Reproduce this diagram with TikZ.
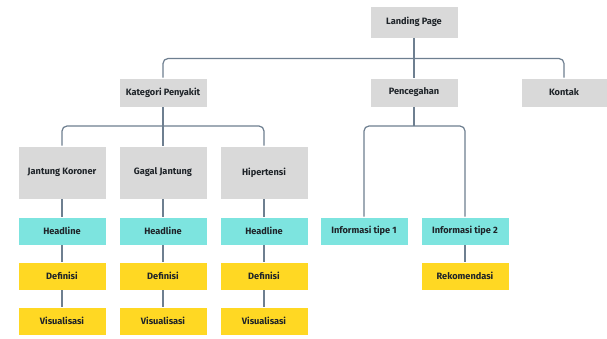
\documentclass[tikz,border=0pt]{standalone}
\usepackage{fontspec}
\setmainfont{Fira Sans}
\definecolor{greybox}{HTML}{D9D9D9}
\definecolor{cyanbox}{HTML}{7DE4DF}
\definecolor{yellowbox}{HTML}{FFD823}
\definecolor{linec}{HTML}{6E7F90}
\definecolor{textc}{HTML}{1E2328}
\begin{document}
\begin{tikzpicture}[x=1pt,y=-1pt,
  box/.style={draw=white,line width=0.6pt,minimum width=88pt,inner sep=0pt,
    font=\fontsize{9.2}{11}\selectfont\bfseries,text=textc},
  grey/.style={box,fill=greybox},
  cyanb/.style={box,fill=cyanbox,minimum height=28pt},
  yel/.style={box,fill=yellowbox,minimum height=28pt},
  conn/.style={draw=linec,line width=1.2pt,rounded corners=5pt}]
\useasboundingbox[fill=white] (0,0) rectangle (607,338);
% top level
\node[grey,minimum height=32pt] (land) at (414,22) {Landing Page};
\node[grey,minimum height=29pt] (kat) at (163,92.5) {Kategori Penyakit};
\node[grey,minimum height=29pt] (pen) at (414,92.5) {Pencegahan};
\node[grey,minimum height=29pt,minimum width=86pt] (kon) at (564,92.5) {Kontak};
% diseases
\node[grey,minimum height=53pt] (jk) at (62,172.5) {Jantung Koroner};
\node[grey,minimum height=53pt] (gj) at (163,172.5) {Gagal Jantung};
\node[grey,minimum height=53pt] (hip) at (264,172.5) {Hipertensi};
\node[cyanb] (h1) at (62,231) {Headline};
\node[cyanb] (h2) at (163,231) {Headline};
\node[cyanb] (h3) at (264,231) {Headline};
\node[yel] (d1) at (62,276) {Definisi};
\node[yel] (d2) at (163,276) {Definisi};
\node[yel] (d3) at (264,276) {Definisi};
\node[yel] (v1) at (62,321) {Visualisasi};
\node[yel] (v2) at (163,321) {Visualisasi};
\node[yel] (v3) at (264,321) {Visualisasi};
% prevention
\node[cyanb] (i1) at (364,231) {Informasi tipe 1};
\node[cyanb] (i2) at (465,231) {Informasi tipe 2};
\node[yel] (rek) at (465,276) {Rekomendasi};
% bus levels
\coordinate (b1) at (0,58.5);
\coordinate (b2) at (0,126);
% connectors
\draw[conn] (land.south) -- (pen.north);
\draw[conn] (kat.north) |- (kon.north |- b1) -- (kon.north);
\draw[conn] (kat.south) -- (gj.north);
\draw[conn] (jk.north) |- (hip.north |- b2) -- (hip.north);
\draw[conn] (pen.south) -- (pen.south |- b2);
\draw[conn] (i1.north) |- (i2.north |- b2) -- (i2.north);
\draw[conn] (jk.south) -- (h1.north);
\draw[conn] (h1.south) -- (d1.north);
\draw[conn] (d1.south) -- (v1.north);
\draw[conn] (gj.south) -- (h2.north);
\draw[conn] (h2.south) -- (d2.north);
\draw[conn] (d2.south) -- (v2.north);
\draw[conn] (hip.south) -- (h3.north);
\draw[conn] (h3.south) -- (d3.north);
\draw[conn] (d3.south) -- (v3.north);
\draw[conn] (i2.south) -- (rek.north);
\end{tikzpicture}
\end{document}
